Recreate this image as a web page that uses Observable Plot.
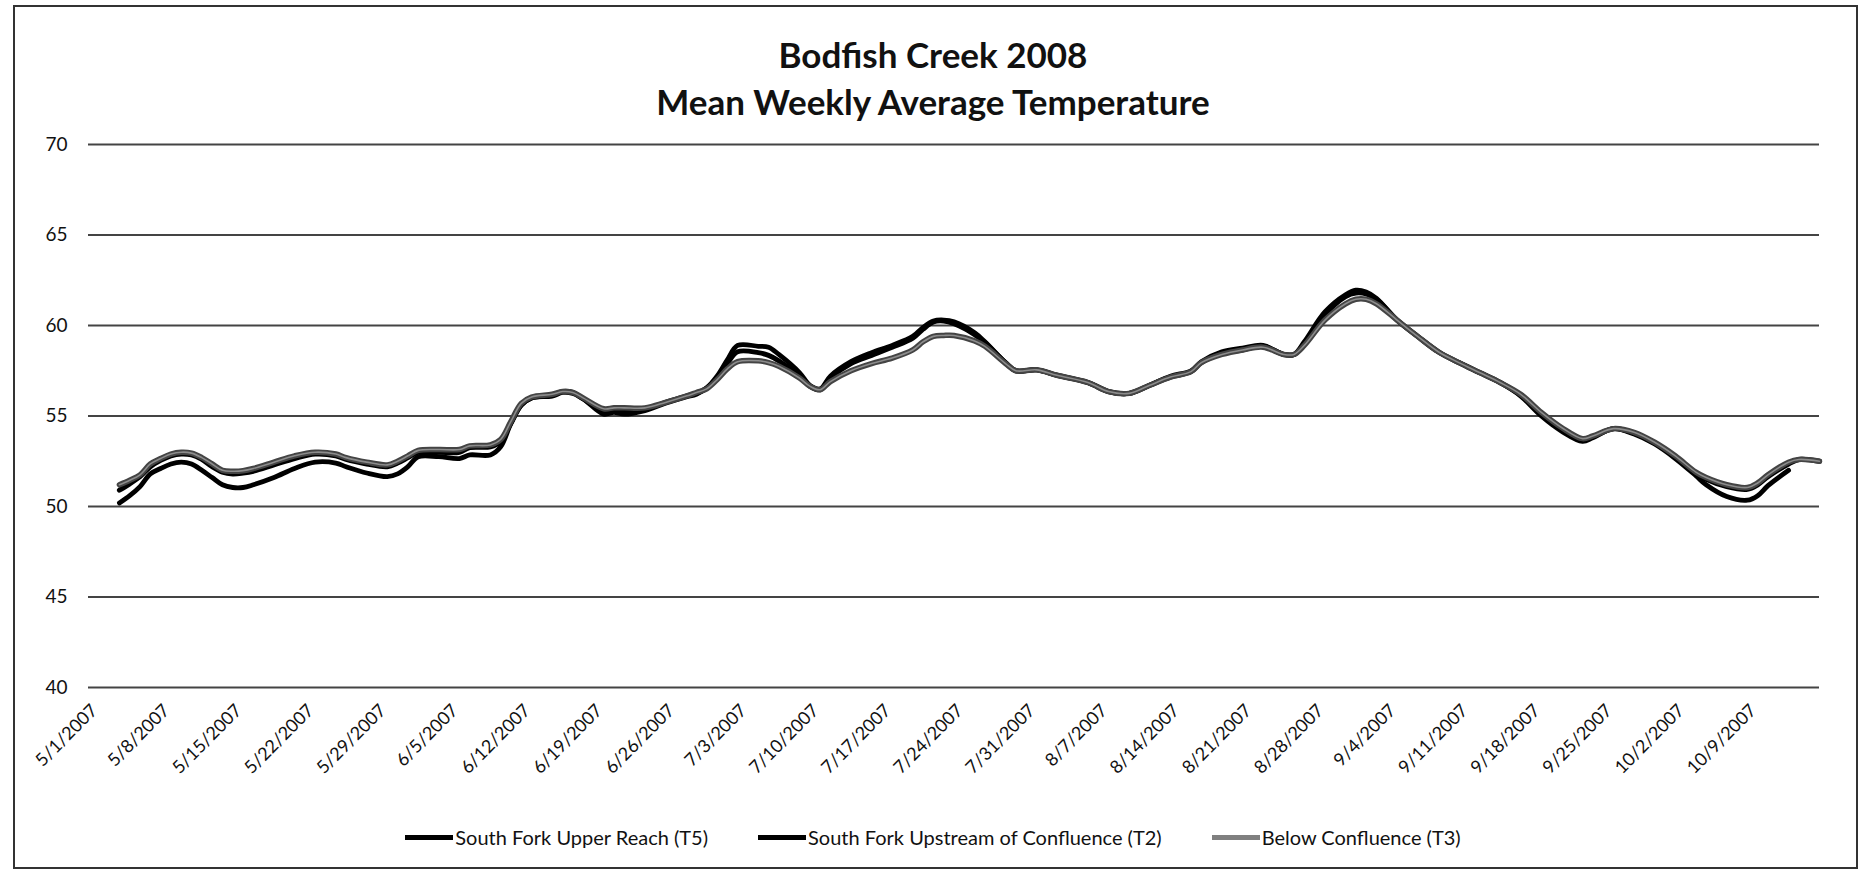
<!DOCTYPE html>
<html>
<head>
<meta charset="utf-8">
<script src="https://cdn.jsdelivr.net/npm/d3@7"></script>
<script src="https://cdn.jsdelivr.net/npm/@observablehq/plot@0.6"></script>
<style>
  body { margin: 0; background: #fff; }
  #frame { position: relative; width: 1863px; height: 871px; overflow: hidden; font-family: Lato, "Open Sans", sans-serif; color: #111; }
  #border { position: absolute; left: 13px; top: 5px; width: 1845px; height: 864px; border: 2px solid #333; box-sizing: border-box; }
  #title { position: absolute; left: 0; top: 31px; width: 1866px; text-align: center; font-weight: bold; font-size: 35px; line-height: 47px; }
  #chart { position: absolute; left: 0; top: 130px; }
  #legend { position: absolute; left: 0; top: 825px; width: 1866px; display: flex; justify-content: center; align-items: center; font-size: 20px; gap: 50px; }
  .item { display: flex; align-items: center; }
  .sw { width: 48px; height: 5px; margin-right: 2px; }
</style>
</head>
<body>
<div id="frame">
  <div id="border"></div>
  <div id="title">Bodfish Creek 2008<br>Mean Weekly Average Temperature</div>
  <div id="chart"></div>
  <div id="legend"></div>
</div>
<script>
// ---- data ----
const seriesNames = ["South Fork Upper Reach (T5)", "South Fork Upstream of Confluence (T2)", "Below Confluence (T3)"];
const dates = [
  "2007-05-04","2007-05-05","2007-05-06","2007-05-07","2007-05-08","2007-05-09","2007-05-10","2007-05-11","2007-05-12","2007-05-13",
  "2007-05-14","2007-05-15","2007-05-16","2007-05-17","2007-05-19","2007-05-21","2007-05-23","2007-05-25","2007-05-26","2007-05-28",
  "2007-05-30","2007-05-31","2007-06-01","2007-06-02","2007-06-04","2007-06-06","2007-06-07","2007-06-09","2007-06-10","2007-06-11",
  "2007-06-12","2007-06-13","2007-06-15","2007-06-16","2007-06-17","2007-06-18","2007-06-20","2007-06-21","2007-06-22","2007-06-24",
  "2007-06-26","2007-06-28","2007-06-29","2007-06-30","2007-07-01","2007-07-02","2007-07-03","2007-07-05","2007-07-06","2007-07-07",
  "2007-07-09","2007-07-10","2007-07-11","2007-07-12","2007-07-14","2007-07-16","2007-07-18","2007-07-20","2007-07-21","2007-07-22",
  "2007-07-23","2007-07-24","2007-07-26","2007-07-27","2007-07-29","2007-07-30","2007-08-01","2007-08-03","2007-08-06","2007-08-08",
  "2007-08-10","2007-08-12","2007-08-14","2007-08-16","2007-08-17","2007-08-19","2007-08-21","2007-08-23","2007-08-25","2007-08-26",
  "2007-08-27","2007-08-29","2007-08-31","2007-09-01","2007-09-02","2007-09-03","2007-09-05","2007-09-07","2007-09-09","2007-09-11",
  "2007-09-13","2007-09-15","2007-09-17","2007-09-19","2007-09-21","2007-09-23","2007-09-24","2007-09-26","2007-09-28","2007-09-30",
  "2007-10-02","2007-10-04","2007-10-05","2007-10-07","2007-10-09","2007-10-10","2007-10-11","2007-10-13","2007-10-14","2007-10-16"
];
const t5 = [
  50.2,50.6,51.1,51.8,52.1,52.35,52.45,52.35,52.0,51.6,
  51.2,51.05,51.05,51.2,51.6,52.1,52.45,52.4,52.2,51.85,
  51.65,51.8,52.2,52.75,52.75,52.65,52.85,52.85,53.3,54.6,
  55.6,56.0,56.1,56.3,56.25,55.95,55.1,55.2,55.1,55.3,
  55.7,56.05,56.2,56.55,57.2,58.1,58.9,58.85,58.8,58.4,
  57.4,56.7,56.5,57.2,58.0,58.5,58.9,59.4,59.9,60.25,
  60.3,60.2,59.6,59.1,57.95,57.5,57.55,57.25,56.85,56.35,
  56.25,56.7,57.2,57.5,58.0,58.55,58.75,58.9,58.4,58.4,
  59.1,60.75,61.7,61.95,61.85,61.5,60.3,59.4,58.55,57.95,
  57.4,56.85,56.1,55.0,54.15,53.6,53.8,54.3,54.0,53.45,
  52.65,51.7,51.2,50.55,50.35,50.6,51.15,52.0,null,null
];
const t2 = [
  50.9,51.25,51.65,52.2,52.55,52.8,52.9,52.85,52.6,52.2,
  51.9,51.8,51.85,51.95,52.3,52.65,52.9,52.8,52.6,52.35,
  52.2,52.4,52.7,53.0,53.0,53.0,53.25,53.3,53.6,54.6,
  55.6,56.0,56.15,56.35,56.3,55.95,55.3,55.35,55.35,55.4,
  55.75,56.1,56.25,56.55,57.1,57.9,58.55,58.5,58.35,58.05,
  57.2,56.65,56.45,57.1,57.9,58.35,58.8,59.3,59.8,60.2,
  60.25,60.1,59.5,59.05,57.95,57.5,57.55,57.25,56.85,56.35,
  56.25,56.7,57.15,57.45,57.95,58.45,58.65,58.85,58.4,58.4,
  59.0,60.6,61.6,61.8,61.75,61.45,60.3,59.4,58.55,57.95,
  57.4,56.85,56.15,55.1,54.25,53.7,53.85,54.3,54.05,53.5,
  52.75,51.85,51.5,51.1,50.95,51.2,51.65,52.35,52.6,52.5
];
const t3 = [
  51.2,51.45,51.75,52.35,52.65,52.9,53.0,52.95,52.7,52.35,
  52.0,51.95,51.98,52.1,52.45,52.8,53.0,52.9,52.7,52.45,
  52.3,52.5,52.8,53.1,53.15,53.15,53.35,53.4,53.7,54.7,
  55.7,56.05,56.2,56.35,56.3,56.0,55.4,55.45,55.45,55.45,
  55.75,56.1,56.3,56.5,57.0,57.6,58.0,58.05,57.95,57.75,
  57.1,56.65,56.45,56.9,57.5,57.9,58.2,58.65,59.1,59.4,
  59.45,59.45,59.15,58.85,57.9,57.5,57.55,57.25,56.85,56.35,
  56.25,56.7,57.15,57.45,57.95,58.4,58.65,58.8,58.4,58.4,
  58.9,60.3,61.2,61.45,61.45,61.2,60.3,59.4,58.55,57.95,
  57.4,56.85,56.2,55.2,54.35,53.75,53.9,54.3,54.1,53.55,
  52.8,51.9,51.6,51.2,51.05,51.3,51.75,52.45,52.6,52.5
];
const yTicks = [40, 45, 50, 55, 60, 65, 70];
const xTickDates = ["2007-05-01","2007-05-08","2007-05-15","2007-05-22","2007-05-29","2007-06-05","2007-06-12","2007-06-19",
  "2007-06-26","2007-07-03","2007-07-10","2007-07-17","2007-07-24","2007-07-31","2007-08-07","2007-08-14","2007-08-21",
  "2007-08-28","2007-09-04","2007-09-11","2007-09-18","2007-09-25","2007-10-02","2007-10-09"];
const xDomain = ["2007-05-01", "2007-10-16"];

// ---- build table ----
const parse = s => new Date(s + "T00:00:00Z");
const valueSets = [t5, t2, t3];
const rows = [];
valueSets.forEach((vals, si) => {
  dates.forEach((d, i) => {
    if (vals[i] != null) rows.push({series: seriesNames[si], date: parse(d), temp: vals[i]});
  });
});
const bySeries = name => rows.filter(r => r.series === name);
const fmt = d => `${d.getUTCMonth() + 1}/${d.getUTCDate()}/${d.getUTCFullYear()}`;

const chart = Plot.plot({
  width: 1863,
  height: 680,
  marginLeft: 88,
  marginRight: 44,
  marginTop: 14,
  marginBottom: 123,
  style: {fontFamily: "Lato, 'Open Sans', sans-serif", color: "#111", background: "transparent"},
  x: {type: "utc", domain: xDomain.map(parse)},
  y: {domain: [40, 70]},
  marks: [
    Plot.ruleY(yTicks, {stroke: "#444", strokeWidth: 1.8}),
    Plot.axisY({ticks: yTicks, tickSize: 0, tickPadding: 21, fontSize: 19, label: null}),
    Plot.axisX({ticks: xTickDates.map(parse), tickFormat: fmt, tickSize: 0, tickPadding: 20, dx: 6, tickRotate: -45, fontSize: 18, label: null}),
    Plot.line(bySeries(seriesNames[0]), {x: "date", y: "temp", stroke: "#000", strokeWidth: 4.8, curve: "catmull-rom"}),
    Plot.line(bySeries(seriesNames[1]), {x: "date", y: "temp", stroke: "#000", strokeWidth: 5, curve: "catmull-rom"}),
    Plot.line(bySeries(seriesNames[2]), {x: "date", y: "temp", stroke: "#444", strokeWidth: 5.5, curve: "catmull-rom"}),
    Plot.line(bySeries(seriesNames[2]), {x: "date", y: "temp", stroke: "#8c8c8c", strokeWidth: 1.6, curve: "catmull-rom"})
  ]
});
document.getElementById("chart").appendChild(chart);

// ---- legend ----
const legendColors = ["#000", "#000", "#808080"];
const legend = document.getElementById("legend");
seriesNames.forEach((name, i) => {
  const item = document.createElement("div");
  item.className = "item";
  const sw = document.createElement("div");
  sw.className = "sw";
  sw.style.background = legendColors[i];
  const tx = document.createElement("span");
  tx.textContent = name;
  item.appendChild(sw);
  item.appendChild(tx);
  legend.appendChild(item);
});
</script>
</body>
</html>
